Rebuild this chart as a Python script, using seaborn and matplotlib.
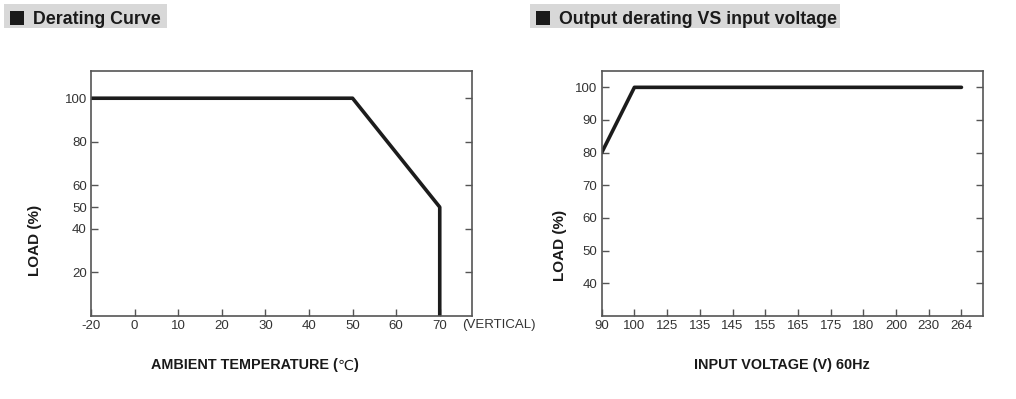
import numpy as np
import pandas as pd
import matplotlib
matplotlib.use("Agg")
import matplotlib.pyplot as plt
from matplotlib.patches import Rectangle
import seaborn as sns

# Derating curve (load vs ambient temperature)
temp_c = [-20, 50, 70, 70]
temp_load = [100, 100, 50, 0]
temp_ticks = [-20, 0, 10, 20, 30, 40, 50, 60, 70]
temp_yticks = [20, 40, 50, 60, 80, 100]

# Output derating vs input voltage
volt_ticks = [90, 100, 125, 135, 145, 155, 165, 175, 180, 200, 230, 264]
volt_v = [90, 100, 264]
volt_load = [80, 100, 100]
volt_yticks = [40, 50, 60, 70, 80, 90, 100]

W, H = 1016, 399
FONTS = ["Liberation Sans", "DejaVu Sans", "Noto Sans CJK SC"]
LINE = "#1c1c1c"
SPINE = "#555555"
TICKC = "#333333"
TXT = "#1a1a1a"

sns.set_theme(style="white")
plt.rcParams["font.family"] = FONTS


def px(x, y, w, h):
    # pixel box (top-left origin) -> figure fraction [l, b, w, h]
    return [x / W, 1 - (y + h) / H, w / W, h / H]


def style_axes(ax):
    for s in ax.spines.values():
        s.set_color(SPINE)
        s.set_linewidth(1.2)
    ax.tick_params(direction="in", length=5, width=1, color=SPINE,
                   labelsize=9.5, labelcolor=TICKC, pad=3, left=True, bottom=True)


def title_box(fig, x, y, w, h, text):
    fig.patches.append(Rectangle((x / W, 1 - (y + h) / H), w / W, h / H,
                                 transform=fig.transFigure, facecolor="#d8d8d8",
                                 edgecolor="none", zorder=0))
    fig.patches.append(Rectangle(((x + 6) / W, 1 - (y + 21) / H), 14 / W, 14 / H,
                                 transform=fig.transFigure, facecolor="#1a1a1a",
                                 edgecolor="none", zorder=1))
    fig.text((x + 29) / W, 1 - (y + 20.5) / H, text, fontsize=12.8, fontweight="bold",
             color=TXT, va="baseline", ha="left")


def mixed_label(fig, cx, cy, parts, size):
    # parts: list of (text, weight); laid out left to right, centred on cx
    r = fig.canvas.get_renderer()
    texts = [fig.text(0, cy, t, fontsize=size, fontweight=wt, color=TXT,
                      va="baseline", ha="left") for t, wt in parts]
    widths = [t.get_window_extent(r).width for t in texts]
    x = cx - sum(widths) / 2
    for t, w in zip(texts, widths):
        t.set_x(x / W)
        x += w


fig = plt.figure(figsize=(W / 100, H / 100), dpi=100)
fig.patch.set_facecolor("white")

# ---- left chart ----
ax1 = fig.add_axes(px(91, 71, 381, 245))
df1 = pd.DataFrame({"temp": temp_c, "load": temp_load})
sns.lineplot(data=df1, x="temp", y="load", ax=ax1, estimator=None, sort=False,
             color=LINE, linewidth=2.6)
# -20 sits closer to 0 than the rest of the scale
ax1.set_xscale("function", functions=(lambda v: np.where(v < 0, v / 2, v),
                                      lambda v: np.where(v < 0, v * 2, v)))
ax1.set_xlim(-20, 77.4)
ax1.set_ylim(0, 112.5)
ax1.set_xticks(temp_ticks)
ax1.set_xticklabels([str(t) for t in temp_ticks])
ax1.set_yticks(temp_yticks)
ax1.set_yticklabels([str(t) for t in temp_yticks])
ax1.set_xlabel("")
ax1.set_ylabel("")
style_axes(ax1)
sec1 = ax1.secondary_yaxis("right")
sec1.set_yticks([20, 40, 60, 80, 100])
sec1.set_yticklabels([])
sec1.tick_params(direction="in", length=5, width=1, color=SPINE)
sec1.spines["right"].set_visible(False)
ax1.text(0.975, -0.037, "(VERTICAL)", transform=ax1.transAxes, fontsize=9.5,
         color=TICKC, va="center", ha="left")
ax1.text(-0.148, 0.31, "LOAD (%)", transform=ax1.transAxes, rotation=90,
         fontsize=11, fontweight="bold", color=TXT, va="center", ha="center")
mixed_label(fig, 255, 1 - 369.5 / H,
            [("AMBIENT TEMPERATURE (", "bold"), ("\u2103", "normal"), (")", "bold")], 10.4)

# ---- right chart ----
ax2 = fig.add_axes(px(601.7, 71, 381, 245))
df2 = pd.DataFrame({"pos": [volt_ticks.index(v) for v in volt_v], "load": volt_load})
sns.lineplot(data=df2, x="pos", y="load", ax=ax2, estimator=None, sort=False,
             color=LINE, linewidth=2.6)
ax2.set_xlim(0, 11.65)
ax2.set_ylim(30, 105)
ax2.set_xticks(range(len(volt_ticks)))
ax2.set_xticklabels([str(v) for v in volt_ticks])
ax2.set_yticks(volt_yticks)
ax2.set_yticklabels([str(v) for v in volt_yticks])
ax2.set_xlabel("")
ax2.set_ylabel("")
style_axes(ax2)
sec2 = ax2.secondary_yaxis("right")
sec2.set_yticks(volt_yticks)
sec2.set_yticklabels([])
sec2.tick_params(direction="in", length=5, width=1, color=SPINE)
sec2.spines["right"].set_visible(False)
fig.text(560 / W, 1 - 245 / H, "LOAD (%)", rotation=90, fontsize=11,
         fontweight="bold", color=TXT, va="center", ha="center")
fig.text(781.7 / W, 1 - 369.5 / H, "INPUT VOLTAGE (V) 60Hz", fontsize=10.4,
         fontweight="bold", color=TXT, va="baseline", ha="center")

# ---- section titles ----
title_box(fig, 4, 4, 163, 24, "Derating Curve")
title_box(fig, 530, 4, 310, 24, "Output derating VS input voltage")

fig.savefig("out.png", dpi=100, facecolor="white")
